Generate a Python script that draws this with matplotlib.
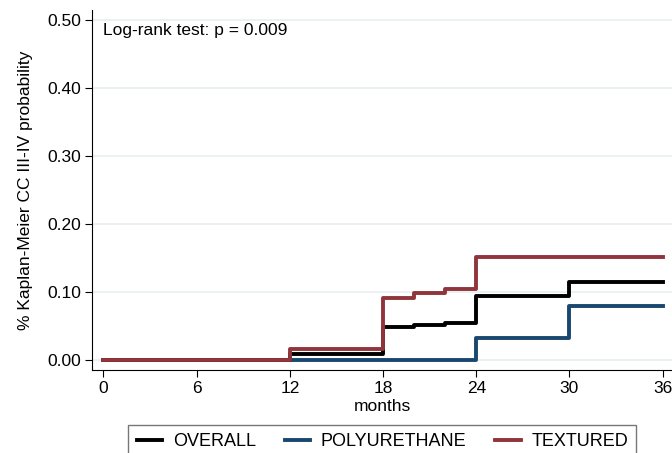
import matplotlib
matplotlib.use("Agg")
import matplotlib.pyplot as plt

plt.rcParams['font.family'] = ['Liberation Sans', 'DejaVu Sans']

# Kaplan-Meier step curves (cumulative incidence)
overall_t = [0, 12, 18, 20, 22, 24, 30, 36]
overall_p = [0.0, 0.009, 0.048, 0.051, 0.054, 0.094, 0.115, 0.115]

poly_t = [0, 24, 30, 36]
poly_p = [0.0, 0.033, 0.080, 0.080]

text_t = [0, 12, 18, 20, 22, 24, 36]
text_p = [0.0, 0.017, 0.091, 0.099, 0.105, 0.152, 0.152]

x_ticks = [0, 6, 12, 18, 24, 30, 36]
y_ticks = [0.0, 0.1, 0.2, 0.3, 0.4, 0.5]

fs = 12.5

fig = plt.figure(figsize=(6.72, 4.53), dpi=100)
ax = fig.add_axes([0.137, 0.183, 0.863, 0.795])

lw = 2.8
ax.step(overall_t, overall_p, where='post', color='black', lw=lw, label='OVERALL', zorder=3)
ax.step(poly_t, poly_p, where='post', color='#1a476f', lw=lw, label='POLYURETHANE', zorder=2)
ax.step(text_t, text_p, where='post', color='#90353b', lw=lw, label='TEXTURED', zorder=4)

ax.set_xlim(-0.73, 36.6)
ax.set_ylim(-0.0147, 0.515)
ax.set_xticks(x_ticks)
ax.set_yticks(y_ticks)
ax.set_yticklabels([f"{v:.2f}" for v in y_ticks])
ax.tick_params(labelsize=fs, length=5, width=0.8, color='black', pad=3)
ax.yaxis.grid(True, color='#e8eff1', lw=1.2)
ax.set_axisbelow(True)
for s in ['top', 'right']:
    ax.spines[s].set_visible(False)

ax.set_xlabel('months', fontsize=fs, labelpad=2)
ax.set_ylabel('% Kaplan-Meier CC III-IV probability', fontsize=fs, labelpad=10)
ax.text(0.0, 0.485, 'Log-rank test: p = 0.009', fontsize=fs, va='center', ha='left')

leg = fig.legend(loc='upper center', bbox_to_anchor=(0.569, 0.062), ncol=3,
                 fontsize=13, frameon=True, fancybox=False, edgecolor='#555555',
                 handlelength=1.4, handletextpad=0.6, columnspacing=1.6,
                 borderpad=0.45, borderaxespad=0.0)
leg.get_frame().set_linewidth(1.0)

fig.savefig('out.png', dpi=100)
